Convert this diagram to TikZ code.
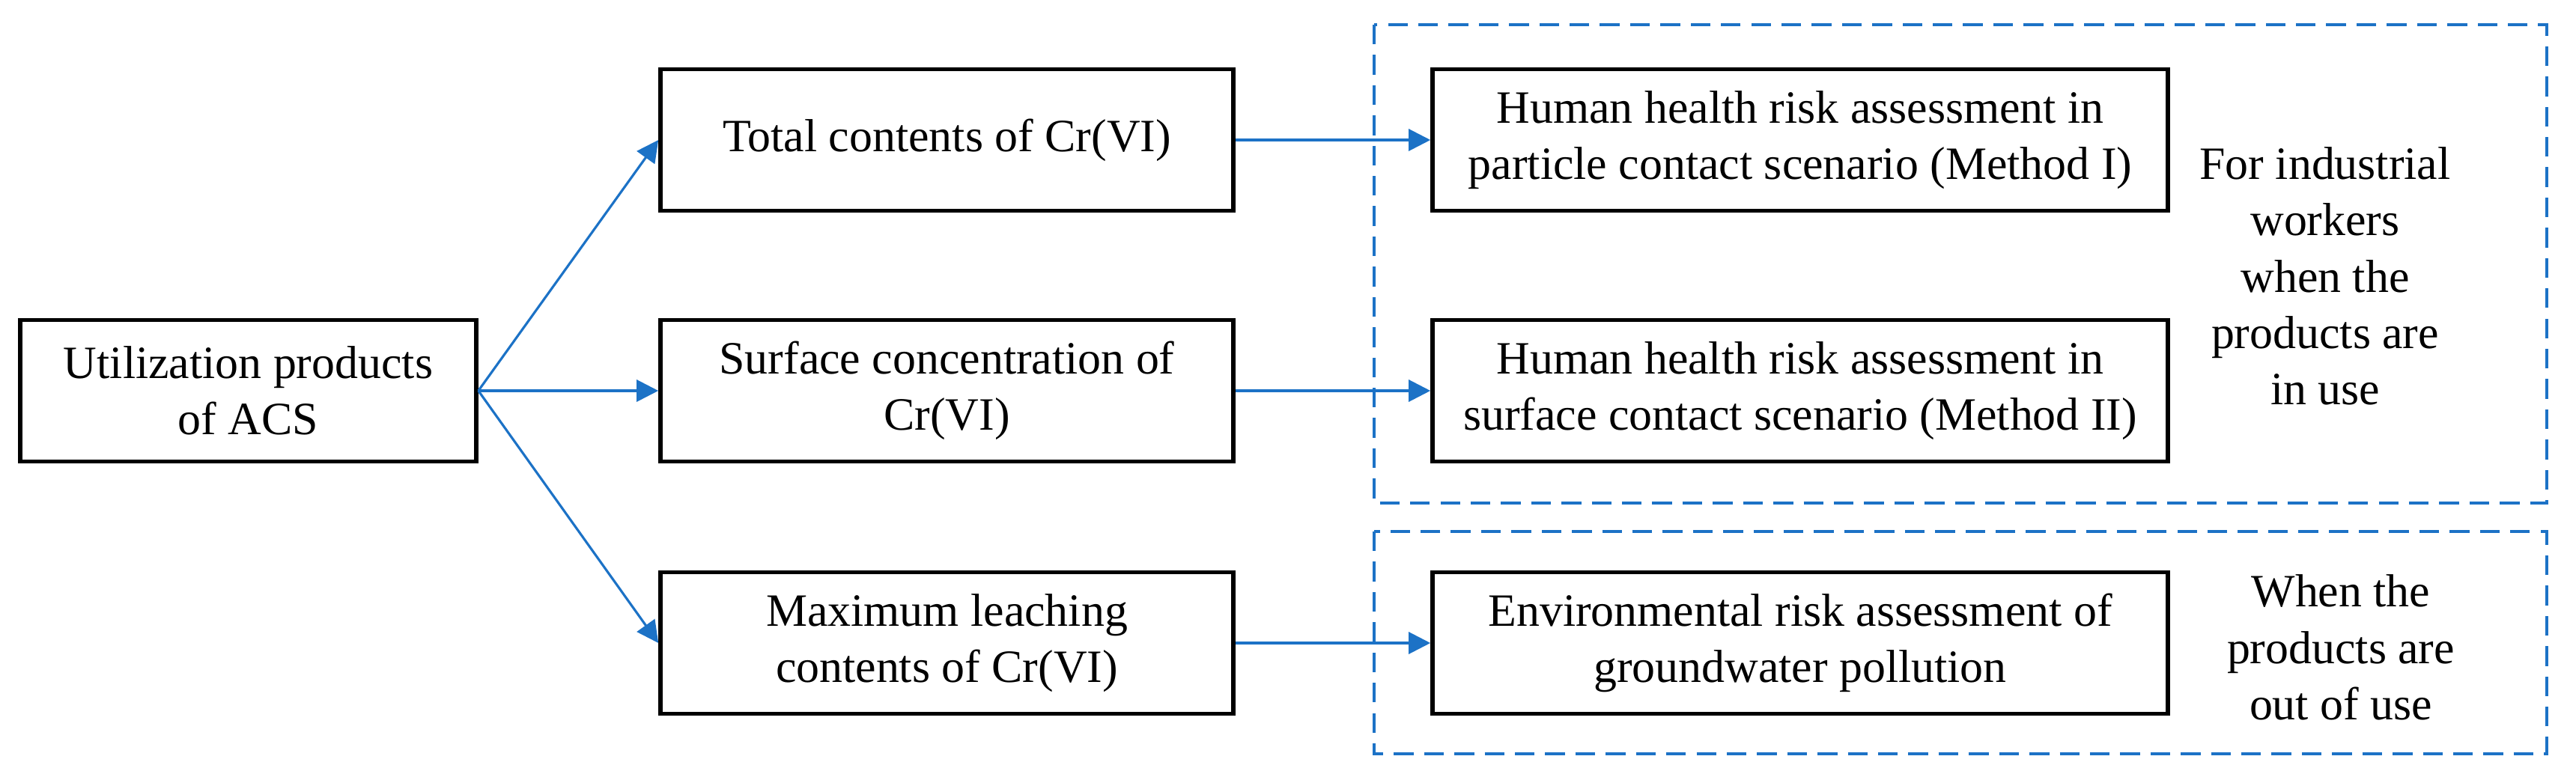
\documentclass[tikz,border=0pt]{standalone}
\usepackage{fontspec}
\setmainfont{Liberation Serif}
\usepackage{xcolor}
\usepackage{tikz}
\usetikzlibrary{arrows.meta,positioning}
\definecolor{lineblue}{RGB}{28,114,198}

\begin{document}
\begin{tikzpicture}[>={Triangle[length=0.29cm,width=0.29cm]},
box/.style={draw,line width=1.6pt,align=center,minimum height=1.89cm,inner sep=0pt,font=\fontsize{17.6}{21.4}\selectfont},
arr/.style={->,lineblue,line width=0.9pt,shorten >=0pt},
group/.style={draw=lineblue,dashed,dash pattern=on 7.5pt off 4pt,line width=1.4pt},
note/.style={align=center,font=\fontsize{17.6}{21.4}\selectfont}]
\useasboundingbox(0,0)rectangle(34.4,10.42);
\draw[group](18.35,10.09)rectangle(34.01,3.70);
\draw[group](18.35,3.32)rectangle(34.01,0.35);
\node[box,minimum width=6.09cm](acs)at(3.315,5.20){Utilization products\\of ACS};
\node[box,minimum width=7.65cm](total)at(12.645,8.55){Total contents of Cr(VI)};
\node[box,minimum width=7.65cm](surf)at(12.645,5.20){Surface concentration of\\Cr(VI)};
\node[box,minimum width=7.65cm](leach)at(12.645,1.83){Maximum leaching\\contents of Cr(VI)};
\node[box,minimum width=9.82cm](m1)at(24.04,8.55){Human health risk assessment in\\particle contact scenario (Method I)};
\node[box,minimum width=9.82cm](m2)at(24.04,5.20){Human health risk assessment in\\surface contact scenario (Method II)};
\node[box,minimum width=9.82cm](env)at(24.04,1.83){Environmental risk assessment of\\groundwater pollution};
\node[note](inuse)at(31.05,6.73){For industrial\\workers\\when the\\products are\\in use};
\node[note](outuse)at(31.26,1.77){When the\\products are\\out of use};
\draw[arr](acs.east)--(total.west);
\draw[arr](acs.east)--(surf.west);
\draw[arr](acs.east)--(leach.west);
\draw[arr](total)--(m1);
\draw[arr](surf)--(m2);
\draw[arr](leach)--(env);
\end{tikzpicture}
\end{document}
